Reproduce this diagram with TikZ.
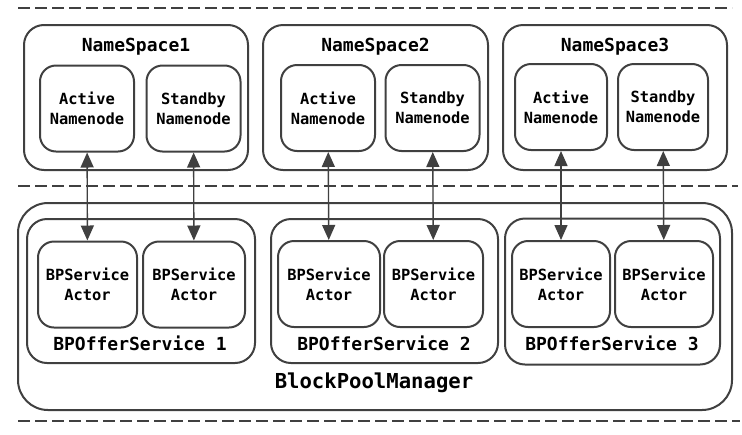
\documentclass[tikz,border=0pt]{standalone}
\usepackage{fontspec}
\setmonofont{DejaVu Sans Mono}
\usetikzlibrary{arrows.meta}

\begin{document}
\begin{tikzpicture}[x=0.5pt,y=-0.5pt,
    grupo/.style={draw=black!75,line width=1pt,rounded corners=10pt,inner sep=0pt},
    nodo/.style={draw=black!75,line width=1pt,rounded corners=8pt,inner sep=0pt,align=center,
      minimum width=47pt,minimum height=43pt,font=\ttfamily\bfseries\fontsize{7.7}{10}\selectfont},
    titulo/.style={inner sep=0pt,font=\ttfamily\bfseries\fontsize{9}{11}\selectfont},
    flecha/.style={<->,>={Triangle[length=7.5pt,width=6.5pt]},line width=0.7pt,draw=black!75},
    corte/.style={draw=black!75,line width=1pt,dash pattern=on 6pt off 2.5pt}]
  \useasboundingbox (0,0) rectangle (742,434);

  % Lineas de corte
  \draw[corte] (18,8) -- (732,8);
  \draw[corte] (18,186) -- (738,186);
  \draw[corte] (18,421) -- (740,421);

  % Espacios de nombres
  \node[grupo,minimum width=112pt,minimum height=72.5pt] (ns1) at (136,97.5) {};
  \node[grupo,minimum width=112.5pt,minimum height=72.5pt] (ns2) at (375.5,97.5) {};
  \node[grupo,minimum width=112pt,minimum height=72.5pt] (ns3) at (615,97.5) {};
  \node[titulo] (t1) at (136,47) {NameSpace1};
  \node[titulo] (t2) at (375.5,47) {NameSpace2};
  \node[titulo] (t3) at (615,47) {NameSpace3};

  \node[nodo] (ns1a) at (87,108.5) {Active\\Namenode};
  \node[nodo] (ns1s) at (193.5,108.5) {Standby\\Namenode};
  \node[nodo] (ns2a) at (328,108) {Active\\Namenode};
  \node[nodo] (ns2s) at (432.5,108) {Standby\\Namenode};
  \node[nodo,minimum width=46pt] (ns3a) at (561,107) {Active\\Namenode};
  \node[nodo,minimum width=45pt] (ns3s) at (663,107) {Standby\\Namenode};

  % BlockPoolManager
  \node[grupo,rounded corners=15pt,minimum width=357pt,minimum height=103.5pt] (bpm) at (375,306.5) {};
  \node[titulo,font=\ttfamily\bfseries\fontsize{10.3}{12}\selectfont] (tbpm) at (374,383) {BlockPoolManager};

  \node[grupo,minimum width=114pt,minimum height=72pt] (bpo1) at (141,291) {};
  \node[grupo,minimum width=113.5pt,minimum height=72pt] (bpo2) at (384.5,291) {};
  \node[grupo,minimum width=107.5pt,minimum height=73pt] (bpo3) at (612.5,291.5) {};
  \node[titulo] (to1) at (140,343) {BPOfferService 1};
  \node[titulo] (to2) at (384,343) {BPOfferService 2};
  \node[titulo] (to3) at (612,343) {BPOfferService 3};

  \node[nodo,minimum width=49.5pt] (bp1a) at (87.5,284.5) {BPService\\Actor};
  \node[nodo,minimum width=51pt] (bp1s) at (194,284.5) {BPService\\Actor};
  \node[nodo,minimum width=51pt] (bp2a) at (329,284) {BPService\\Actor};
  \node[nodo,minimum width=49.5pt] (bp2s) at (433.5,284) {BPService\\Actor};
  \node[nodo,minimum width=49pt] (bp3a) at (561,284) {BPService\\Actor};
  \node[nodo,minimum width=49pt] (bp3s) at (664,284) {BPService\\Actor};

  % Conexiones
  \draw[flecha] (ns1a) -- (bp1a);
  \draw[flecha] (ns1s) -- (bp1s);
  \draw[flecha] (ns2a) -- (bp2a);
  \draw[flecha] (ns2s) -- (bp2s);
  \draw[flecha] (ns3a) -- (bp3a);
  \draw[flecha] (ns3s) -- (bp3s);
\end{tikzpicture}
\end{document}
